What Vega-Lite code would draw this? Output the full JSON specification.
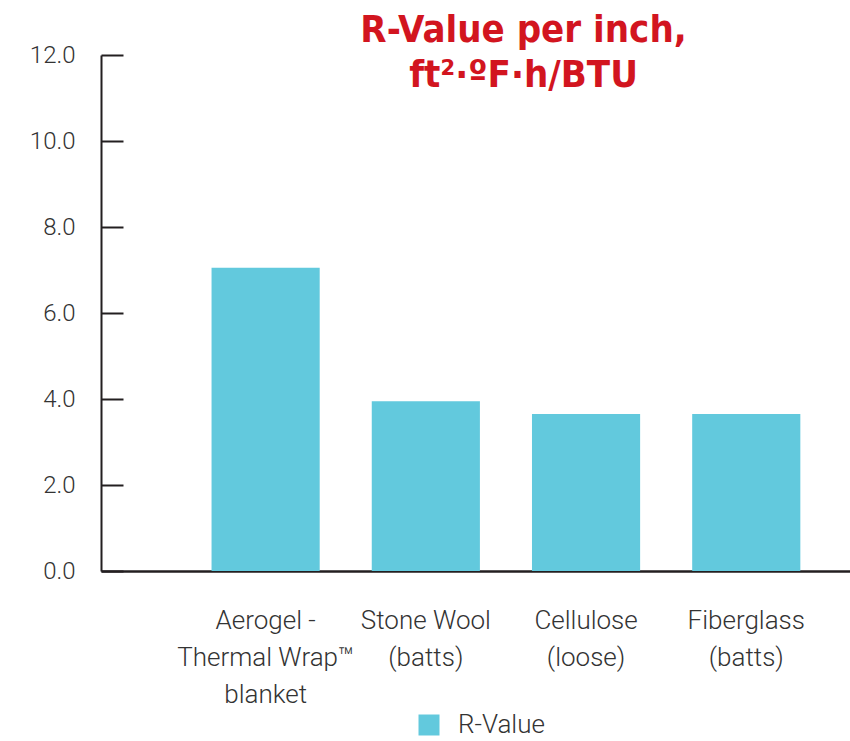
{
  "$schema": "https://vega.github.io/schema/vega-lite/v6.json",
  "width": 749,
  "height": 516,
  "autosize": {"type": "none"},
  "padding": {"left": 101, "top": 55, "right": 0, "bottom": 170},
  "background": "white",
  "title": {
    "text": ["R-Value per inch,", "ft²·ºF·h/BTU"],
    "color": "#d2151f",
    "font": "DejaVu Sans Condensed",
    "fontWeight": "bold",
    "fontSize": 38,
    "lineHeight": 45,
    "anchor": "middle",
    "dx": 48,
    "offset": -52
  },
  "data": {
    "values": [
      {"material": "Aerogel -\nThermal Wrap™\nblanket", "r_value": 7.05},
      {"material": "Stone Wool\n(batts)", "r_value": 3.95},
      {"material": "Cellulose\n(loose)", "r_value": 3.65},
      {"material": "Fiberglass\n(batts)", "r_value": 3.65}
    ]
  },
  "mark": {"type": "bar"},
  "encoding": {
    "x": {
      "field": "material",
      "type": "nominal",
      "sort": null,
      "scale": {"paddingInner": 0.325, "paddingOuter": 0.5, "align": 0.69},
      "axis": {
        "title": null,
        "ticks": false,
        "labelAngle": 0,
        "labelExpr": "split(datum.label, '\\n')",
        "labelFont": "Roboto",
        "labelFontWeight": 300,
        "labelFontSize": 26,
        "labelColor": "#333333",
        "labelLineHeight": 37,
        "labelBaseline": "top",
        "labelPadding": 36,
        "domainColor": "#231f20",
        "domainWidth": 2.5
      }
    },
    "y": {
      "field": "r_value",
      "type": "quantitative",
      "scale": {"domain": [0, 12], "nice": false},
      "axis": {
        "title": null,
        "grid": false,
        "values": [0, 2, 4, 6, 8, 10, 12],
        "format": ".1f",
        "tickSize": -22,
        "tickWidth": 2,
        "tickColor": "#231f20",
        "domainColor": "#231f20",
        "domainWidth": 2,
        "labelPadding": 48,
        "labelFont": "Roboto",
        "labelFontWeight": 300,
        "labelFontSize": 24,
        "labelColor": "#333333"
      }
    },
    "color": {
      "datum": "R-Value",
      "scale": {"range": ["#62c9dd"]},
      "legend": {
        "title": null,
        "orient": "none",
        "legendX": 315,
        "legendY": 657,
        "symbolType": "square",
        "symbolSize": 441,
        "symbolStrokeWidth": 0,
        "labelFont": "Roboto",
        "labelFontWeight": 300,
        "labelFontSize": 26,
        "labelColor": "#333333",
        "labelOffset": 16
      }
    }
  },
  "config": {"view": {"stroke": null}}
}
